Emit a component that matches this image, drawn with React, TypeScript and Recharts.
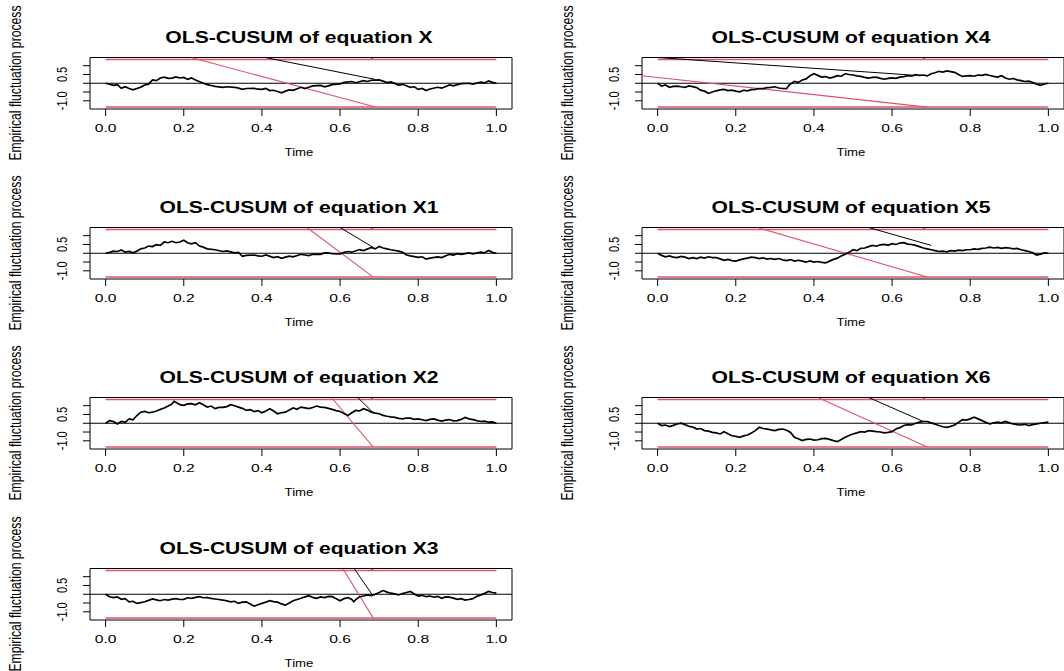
import React from 'react';
import { LineChart, Line, XAxis, YAxis, ReferenceLine, ReferenceArea } from 'recharts';

// ---------- constants / tick labels ----------
const BOUND = 1.358;
const Y_LIM = 1.467;
const X_DOMAIN: [number, number] = [-0.04, 1.04];
const xTicks = [0, 0.2, 0.4, 0.6, 0.8, 1.0];
const yTicks = [-1, -0.5, 0, 0.5, 1];
const yTicksLabelled = [-1, 0.5];
const equations = ['X', 'X1', 'X2', 'X3', 'X4', 'X5', 'X6'];
const panelCols = [0, 0, 0, 0, 1, 1, 1];
const panelRows = [0, 1, 2, 3, 0, 1, 2];

// ---------- empirical fluctuation processes [time, value] ----------
const procX = [[0,0],[0.01,-0.05],[0.02,-0.12],[0.03,-0.08],[0.04,-0.29],[0.05,-0.2],[0.06,-0.3],[0.07,-0.38],[0.08,-0.3],[0.09,-0.22],[0.1,-0.1],[0.11,-0.05],[0.12,0.19],[0.13,0.15],[0.14,0.3],[0.15,0.35],[0.16,0.28],[0.17,0.29],[0.18,0.36],[0.19,0.3],[0.2,0.33],[0.21,0.22],[0.22,0.3],[0.23,0.18],[0.25,0],[0.26,-0.08],[0.27,-0.13],[0.28,-0.18],[0.3,-0.23],[0.31,-0.2],[0.33,-0.23],[0.34,-0.28],[0.35,-0.35],[0.36,-0.3],[0.38,-0.29],[0.39,-0.34],[0.4,-0.35],[0.41,-0.3],[0.42,-0.42],[0.43,-0.4],[0.45,-0.54],[0.46,-0.45],[0.47,-0.38],[0.48,-0.4],[0.5,-0.23],[0.51,-0.3],[0.52,-0.23],[0.53,-0.15],[0.55,-0.12],[0.56,-0.2],[0.57,-0.15],[0.58,-0.08],[0.6,-0.04],[0.61,0.05],[0.63,0.1],[0.64,0.03],[0.66,0.15],[0.67,0.1],[0.68,0.17],[0.7,0.19],[0.71,0.12],[0.72,0.04],[0.73,0.08],[0.75,-0.1],[0.76,-0.06],[0.78,-0.23],[0.79,-0.2],[0.8,-0.35],[0.81,-0.3],[0.82,-0.42],[0.83,-0.33],[0.85,-0.23],[0.86,-0.28],[0.88,-0.1],[0.89,-0.15],[0.9,-0.08],[0.91,-0.02],[0.93,0],[0.94,-0.05],[0.96,0.06],[0.97,0.02],[0.98,0.13],[0.99,0.05],[1,0]];
const procX1 = [[0,0],[0.01,0.05],[0.02,0.12],[0.03,0.1],[0.04,0.19],[0.05,0.06],[0.06,0.1],[0.07,0.02],[0.08,0.12],[0.09,0.25],[0.1,0.3],[0.11,0.41],[0.12,0.38],[0.13,0.49],[0.14,0.45],[0.15,0.64],[0.16,0.6],[0.17,0.68],[0.18,0.6],[0.19,0.64],[0.2,0.74],[0.21,0.6],[0.22,0.54],[0.23,0.6],[0.24,0.41],[0.25,0.35],[0.26,0.25],[0.28,0.2],[0.3,0.1],[0.31,0.13],[0.33,0.02],[0.34,0.05],[0.35,-0.17],[0.36,-0.12],[0.38,-0.1],[0.39,-0.15],[0.4,-0.17],[0.41,-0.1],[0.43,-0.25],[0.44,-0.2],[0.45,-0.29],[0.46,-0.22],[0.47,-0.17],[0.48,-0.2],[0.5,-0.06],[0.51,-0.1],[0.52,-0.14],[0.53,-0.05],[0.55,-0.06],[0.56,0.02],[0.57,0.02],[0.58,-0.03],[0.6,-0.04],[0.61,0.05],[0.62,0.1],[0.63,0.06],[0.65,0.21],[0.66,0.15],[0.68,0.33],[0.69,0.25],[0.7,0.39],[0.71,0.3],[0.72,0.25],[0.73,0.2],[0.75,0.12],[0.76,0.05],[0.77,-0.1],[0.78,-0.15],[0.8,-0.23],[0.81,-0.2],[0.82,-0.33],[0.83,-0.28],[0.85,-0.21],[0.86,-0.25],[0.88,-0.06],[0.89,-0.1],[0.9,-0.02],[0.91,-0.06],[0.93,0.02],[0.94,-0.03],[0.96,0.06],[0.97,0.03],[0.98,0.16],[0.99,0.05],[1,0]];
const procX2 = [[0,0],[0.01,0.15],[0.02,0.1],[0.03,-0.04],[0.04,0.1],[0.05,0.05],[0.06,0.25],[0.07,0.2],[0.08,0.44],[0.09,0.63],[0.1,0.67],[0.11,0.6],[0.12,0.63],[0.13,0.7],[0.14,0.79],[0.15,0.87],[0.16,0.98],[0.17,1.1],[0.175,1.25],[0.18,1.2],[0.19,1.06],[0.2,1.02],[0.21,1.1],[0.22,1.12],[0.23,1.05],[0.24,1.17],[0.25,1.05],[0.26,0.92],[0.27,0.98],[0.28,0.83],[0.29,0.9],[0.3,0.9],[0.31,0.95],[0.32,1.06],[0.33,1.0],[0.34,0.92],[0.35,0.85],[0.36,0.73],[0.37,0.78],[0.38,0.67],[0.39,0.72],[0.4,0.6],[0.41,0.7],[0.42,0.83],[0.43,0.7],[0.44,0.54],[0.45,0.6],[0.46,0.63],[0.47,0.75],[0.48,0.87],[0.49,0.8],[0.5,0.92],[0.51,0.88],[0.52,0.83],[0.53,0.9],[0.54,0.98],[0.55,0.92],[0.56,0.9],[0.57,0.85],[0.58,0.79],[0.59,0.72],[0.6,0.67],[0.61,0.55],[0.62,0.44],[0.63,0.6],[0.64,0.73],[0.65,0.7],[0.66,0.83],[0.67,0.75],[0.68,0.63],[0.69,0.58],[0.7,0.54],[0.71,0.45],[0.72,0.4],[0.73,0.36],[0.74,0.33],[0.75,0.28],[0.76,0.25],[0.77,0.3],[0.78,0.29],[0.79,0.22],[0.8,0.25],[0.81,0.2],[0.82,0.15],[0.83,0.22],[0.84,0.25],[0.85,0.18],[0.86,0.12],[0.87,0.18],[0.88,0.21],[0.89,0.14],[0.9,0.15],[0.91,0.22],[0.92,0.33],[0.93,0.25],[0.94,0.21],[0.95,0.15],[0.96,0.1],[0.97,0.12],[0.98,0.06],[0.99,0.08],[1,0]];
const procX3 = [[0,0],[0.01,-0.14],[0.02,-0.19],[0.03,-0.15],[0.04,-0.29],[0.05,-0.25],[0.06,-0.43],[0.07,-0.4],[0.08,-0.52],[0.09,-0.48],[0.1,-0.43],[0.11,-0.35],[0.12,-0.27],[0.13,-0.32],[0.14,-0.37],[0.15,-0.3],[0.16,-0.33],[0.17,-0.28],[0.18,-0.25],[0.19,-0.3],[0.2,-0.29],[0.21,-0.2],[0.22,-0.23],[0.23,-0.18],[0.24,-0.14],[0.25,-0.2],[0.26,-0.19],[0.27,-0.24],[0.28,-0.27],[0.29,-0.3],[0.3,-0.33],[0.31,-0.38],[0.32,-0.43],[0.33,-0.4],[0.34,-0.52],[0.35,-0.45],[0.36,-0.43],[0.37,-0.55],[0.38,-0.68],[0.39,-0.6],[0.4,-0.52],[0.41,-0.45],[0.42,-0.37],[0.43,-0.42],[0.44,-0.45],[0.45,-0.55],[0.46,-0.62],[0.47,-0.5],[0.48,-0.37],[0.49,-0.3],[0.5,-0.23],[0.51,-0.15],[0.52,-0.08],[0.53,-0.18],[0.54,-0.23],[0.55,-0.15],[0.56,-0.19],[0.57,-0.12],[0.58,-0.14],[0.59,-0.25],[0.6,-0.37],[0.61,-0.25],[0.62,-0.19],[0.63,-0.3],[0.635,-0.43],[0.64,-0.3],[0.65,-0.14],[0.66,-0.1],[0.67,-0.04],[0.68,-0.08],[0.69,0],[0.7,0.1],[0.71,0.21],[0.72,0.12],[0.73,0.06],[0.74,0.02],[0.75,-0.04],[0.76,0.04],[0.77,0.1],[0.78,0.16],[0.79,0.02],[0.8,-0.1],[0.81,-0.06],[0.82,-0.14],[0.83,-0.1],[0.84,-0.17],[0.85,-0.12],[0.86,-0.23],[0.87,-0.15],[0.88,-0.16],[0.89,-0.22],[0.9,-0.29],[0.91,-0.25],[0.92,-0.33],[0.93,-0.3],[0.94,-0.25],[0.95,-0.12],[0.96,-0.04],[0.97,0.05],[0.98,0.16],[0.99,0.1],[1,0.06]];
const procX4 = [[0,0],[0.01,-0.16],[0.02,-0.1],[0.03,-0.23],[0.04,-0.18],[0.05,-0.16],[0.06,-0.2],[0.07,-0.23],[0.08,-0.15],[0.09,-0.19],[0.1,-0.25],[0.11,-0.39],[0.12,-0.45],[0.13,-0.58],[0.14,-0.5],[0.15,-0.43],[0.16,-0.38],[0.17,-0.35],[0.18,-0.42],[0.19,-0.39],[0.2,-0.45],[0.21,-0.49],[0.22,-0.4],[0.23,-0.43],[0.24,-0.36],[0.25,-0.35],[0.26,-0.3],[0.27,-0.31],[0.28,-0.25],[0.29,-0.23],[0.3,-0.2],[0.31,-0.27],[0.32,-0.3],[0.33,-0.31],[0.335,-0.15],[0.34,-0.04],[0.35,0.1],[0.36,0.05],[0.37,0.19],[0.38,0.25],[0.39,0.43],[0.4,0.54],[0.41,0.45],[0.42,0.35],[0.43,0.38],[0.44,0.29],[0.45,0.35],[0.46,0.43],[0.47,0.4],[0.48,0.54],[0.49,0.5],[0.5,0.47],[0.51,0.42],[0.52,0.39],[0.53,0.33],[0.54,0.29],[0.55,0.33],[0.56,0.35],[0.57,0.28],[0.58,0.23],[0.59,0.28],[0.6,0.31],[0.61,0.28],[0.62,0.35],[0.63,0.38],[0.64,0.43],[0.65,0.4],[0.66,0.49],[0.67,0.45],[0.68,0.47],[0.69,0.42],[0.7,0.54],[0.71,0.6],[0.72,0.68],[0.73,0.64],[0.74,0.7],[0.75,0.66],[0.76,0.62],[0.77,0.5],[0.78,0.39],[0.79,0.42],[0.8,0.43],[0.81,0.4],[0.82,0.47],[0.83,0.45],[0.84,0.5],[0.85,0.44],[0.86,0.39],[0.87,0.35],[0.88,0.43],[0.89,0.3],[0.9,0.23],[0.91,0.27],[0.92,0.19],[0.93,0.15],[0.94,0.1],[0.95,0.12],[0.96,0.04],[0.97,-0.05],[0.98,-0.12],[0.99,-0.04],[1,0]];
const procX5 = [[0,0],[0.01,-0.12],[0.02,-0.2],[0.03,-0.15],[0.04,-0.22],[0.05,-0.25],[0.06,-0.18],[0.07,-0.22],[0.08,-0.3],[0.09,-0.25],[0.1,-0.3],[0.11,-0.22],[0.12,-0.28],[0.13,-0.2],[0.14,-0.25],[0.15,-0.25],[0.16,-0.32],[0.17,-0.4],[0.18,-0.35],[0.19,-0.42],[0.2,-0.45],[0.21,-0.38],[0.22,-0.32],[0.23,-0.28],[0.24,-0.22],[0.25,-0.25],[0.26,-0.3],[0.27,-0.26],[0.28,-0.33],[0.29,-0.3],[0.3,-0.35],[0.31,-0.3],[0.32,-0.38],[0.33,-0.42],[0.34,-0.36],[0.35,-0.45],[0.36,-0.4],[0.37,-0.45],[0.38,-0.5],[0.39,-0.44],[0.4,-0.5],[0.41,-0.47],[0.42,-0.52],[0.43,-0.55],[0.44,-0.45],[0.45,-0.35],[0.46,-0.28],[0.47,-0.15],[0.48,-0.05],[0.49,0.05],[0.5,0.2],[0.51,0.15],[0.52,0.28],[0.53,0.3],[0.54,0.38],[0.55,0.45],[0.56,0.4],[0.57,0.48],[0.58,0.5],[0.59,0.45],[0.6,0.55],[0.61,0.5],[0.62,0.58],[0.63,0.6],[0.64,0.52],[0.65,0.5],[0.66,0.45],[0.67,0.38],[0.68,0.3],[0.69,0.25],[0.7,0.2],[0.71,0.15],[0.72,0.1],[0.73,0.12],[0.74,0.08],[0.75,0.15],[0.76,0.12],[0.77,0.18],[0.78,0.15],[0.79,0.2],[0.8,0.2],[0.81,0.25],[0.82,0.22],[0.83,0.28],[0.84,0.3],[0.85,0.35],[0.86,0.3],[0.87,0.33],[0.88,0.28],[0.89,0.32],[0.9,0.3],[0.91,0.25],[0.92,0.28],[0.93,0.2],[0.94,0.15],[0.95,0.1],[0.96,0.02],[0.97,-0.1],[0.98,-0.05],[0.99,0.02],[1,0]];
const procX6 = [[0,0],[0.01,-0.13],[0.02,-0.1],[0.03,-0.19],[0.04,-0.12],[0.05,-0.04],[0.06,0],[0.07,-0.08],[0.08,-0.17],[0.09,-0.22],[0.1,-0.33],[0.11,-0.3],[0.12,-0.42],[0.13,-0.45],[0.14,-0.52],[0.15,-0.55],[0.16,-0.61],[0.17,-0.48],[0.18,-0.6],[0.19,-0.71],[0.2,-0.75],[0.21,-0.8],[0.22,-0.72],[0.23,-0.67],[0.24,-0.55],[0.25,-0.42],[0.26,-0.23],[0.27,-0.3],[0.28,-0.33],[0.29,-0.38],[0.3,-0.42],[0.31,-0.35],[0.32,-0.33],[0.33,-0.4],[0.34,-0.52],[0.35,-0.8],[0.36,-0.88],[0.37,-0.99],[0.38,-0.92],[0.39,-0.9],[0.4,-0.96],[0.41,-0.94],[0.42,-0.88],[0.43,-0.86],[0.44,-0.92],[0.45,-0.99],[0.46,-1.05],[0.47,-0.92],[0.48,-0.8],[0.49,-0.7],[0.5,-0.61],[0.51,-0.55],[0.52,-0.48],[0.53,-0.5],[0.54,-0.42],[0.55,-0.45],[0.56,-0.48],[0.57,-0.5],[0.58,-0.55],[0.59,-0.52],[0.6,-0.48],[0.61,-0.33],[0.62,-0.25],[0.63,-0.13],[0.64,-0.08],[0.65,-0.1],[0.66,0],[0.67,0.06],[0.68,0.1],[0.69,0.1],[0.7,0.02],[0.71,-0.05],[0.72,-0.13],[0.73,-0.2],[0.74,-0.23],[0.75,-0.18],[0.76,-0.1],[0.77,0.05],[0.78,0.21],[0.79,0.18],[0.8,0.25],[0.81,0.34],[0.82,0.25],[0.83,0.15],[0.84,0.05],[0.85,-0.04],[0.86,0.02],[0.87,0.06],[0.88,0.02],[0.89,0.1],[0.9,0.02],[0.91,-0.04],[0.92,-0.08],[0.93,-0.1],[0.94,-0.06],[0.95,-0.13],[0.96,-0.08],[0.97,-0.04],[0.98,0],[0.99,0.04],[1,0.06]];

// ---------- extra segments drawn on each panel [time, value] ----------
const redDiagX  = [[0.219, 1.467], [0.69, -1.358]];
const redDiagX1 = [[0.515, 1.467], [0.685, -1.358]];
const redDiagX2 = [[0.578, 1.467], [0.685, -1.358]];
const redDiagX3 = [[0.607, 1.467], [0.685, -1.358]];
const redDiagX4 = [[-0.04, 0.43], [0.69, -1.358]];
const redDiagX5 = [[0.255, 1.467], [0.69, -1.358]];
const redDiagX6 = [[0.41, 1.467], [0.69, -1.358]];
const blackDiagX  = [[0.408, 1.467], [0.69, 0.22]];
const blackDiagX1 = [[0.6, 1.467], [0.685, 0.33]];
const blackDiagX2 = [[0.645, 1.467], [0.685, 0.6]];
const blackDiagX3 = [[0.636, 1.467], [0.683, -0.05]];
const blackDiagX4 = [[0.0, 1.467], [0.66, 0.45]];
const blackDiagX5 = [[0.54, 1.467], [0.7, 0.45]];
const blackDiagX6 = [[0.54, 1.467], [0.68, 0.1]];
const redTick = [[0.675, 1.467], [0.687, 1.358]];
const upperBound = [[0, BOUND], [1, BOUND]];
const lowerBound = [[0, -BOUND], [1, -BOUND]];

const processes = [procX, procX1, procX2, procX3, procX4, procX5, procX6];
const redDiags = [redDiagX, redDiagX1, redDiagX2, redDiagX3, redDiagX4, redDiagX5, redDiagX6];
const blackDiags = [blackDiagX, blackDiagX1, blackDiagX2, blackDiagX3, blackDiagX4, blackDiagX5, blackDiagX6];

// ---------- styling ----------
const FONT = '"Liberation Sans", Arial, Helvetica, sans-serif';
const RED = '#DF536B';
const ROW_STEP = 170.2;
const COL_STEP = 552;
const PW = 532;
const PH = 170;

const pts = (a: number[][]) => a.map(([t, v]) => ({ t, v }));

const XTick = (props: any) => {
  const { x, y, payload } = props;
  return (
    <text transform={`translate(${x},${y + 16}) scale(1.45,1)`} textAnchor="middle" fontSize={10.8} fontFamily={FONT} fill="#000">
      {Number(payload.value).toFixed(1)}
    </text>
  );
};

const YTick = (props: any) => {
  const { x, y, payload } = props;
  const v = Number(payload.value);
  if (!yTicksLabelled.some((k) => Math.abs(k - v) < 1e-9)) return <g />;
  return (
    <text transform={`translate(${x - 16},${y}) scale(1.3,1) rotate(-90)`} textAnchor="middle" fontSize={11} fontFamily={FONT} fill="#000">
      {v.toFixed(1)}
    </text>
  );
};

function Panel({ idx }: { idx: number }) {
  const left = panelCols[idx] * COL_STEP;
  const top = panelRows[idx] * ROW_STEP;
  const seg = (d: number[][], color: string, w: number, key: string) => (
    <Line key={key} data={pts(d)} dataKey="v" type="linear" stroke={color} strokeWidth={w} dot={false} activeDot={false} isAnimationActive={false} legendType="none" />
  );
  return (
    <div style={{ position: 'absolute', left, top, width: PW, height: PH }}>
      <LineChart width={PW} height={PH} data={pts(processes[idx])} margin={{ top: 57.5, right: 20, bottom: 0, left: 0 }}>
        <XAxis dataKey="t" type="number" domain={X_DOMAIN} ticks={xTicks} interval={0} allowDataOverflow height={61}
          axisLine={false} tickLine={{ stroke: '#000' }} tickSize={7} tickMargin={0} tick={<XTick />} />
        <YAxis type="number" domain={[-Y_LIM, Y_LIM]} ticks={yTicks} interval={0} allowDataOverflow width={90}
          axisLine={false} tickLine={{ stroke: '#000' }} tickSize={7} tickMargin={0} tick={<YTick />} />
        <ReferenceArea x1={X_DOMAIN[0]} x2={X_DOMAIN[1]} y1={-Y_LIM} y2={Y_LIM} fill="#fff" fillOpacity={0} stroke="#000" strokeWidth={1} ifOverflow="visible" />
        <ReferenceLine y={0} stroke="#000" strokeWidth={1} />
        {seg(upperBound, RED, 1.5, 'ub')}
        {seg(lowerBound, RED, 1.5, 'lb')}
        {seg(redDiags[idx], RED, 1.1, 'rd')}
        {seg(redTick, RED, 1.1, 'rt')}
        {seg(blackDiags[idx], '#000', 1, 'bd')}
        <Line dataKey="v" type="linear" stroke="#000" strokeWidth={1.7} dot={false} activeDot={false} isAnimationActive={false} />
      </LineChart>
      <svg width={PW} height={PH} style={{ position: 'absolute', left: 0, top: 0, pointerEvents: 'none' }}>
        <text transform={`translate(299,43) scale(1.28,1)`} textAnchor="middle" fontSize={16.5} fontWeight="bold" fontFamily={FONT} fill="#000">
          {`OLS-CUSUM of equation ${equations[idx]}`}
        </text>
        <text transform={`translate(299,156) scale(1.2,1)`} textAnchor="middle" fontSize={11} fontFamily={FONT} fill="#000">Time</text>
        <text transform={`translate(20.5,83) scale(1.3,1) rotate(-90)`} textAnchor="middle" fontSize={12.2} fontFamily={FONT} fill="#000">
          Empirical fluctuation process
        </text>
      </svg>
    </div>
  );
}

export default function App() {
  return (
    <div style={{ position: 'absolute', left: 0, top: 0, width: 1064, height: 671, overflow: 'hidden', background: '#fff' }}>
      {equations.map((_, i) => (
        <Panel key={i} idx={i} />
      ))}
    </div>
  );
}
